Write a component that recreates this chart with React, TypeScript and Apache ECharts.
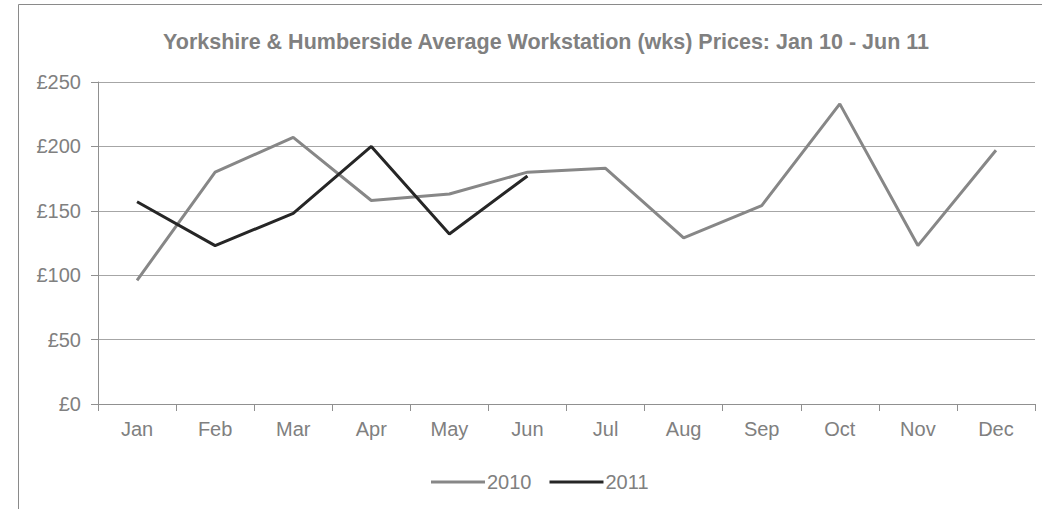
import React, { useEffect, useRef } from "react";
import * as echarts from "echarts";

const categories = ["Jan", "Feb", "Mar", "Apr", "May", "Jun", "Jul", "Aug", "Sep", "Oct", "Nov", "Dec"];
const values2010 = [96, 180, 207, 158, 163, 180, 183, 129, 154, 233, 123, 197];
const values2011 = [157, 123, 148, 200, 132, 177];
const yTicks = [0, 50, 100, 150, 200, 250];

export default function App() {
  const ref = useRef<HTMLDivElement>(null);
  useEffect(() => {
    const chart = echarts.init(ref.current!, null, { renderer: "svg" });
    const font = "'Liberation Sans', Arial, sans-serif";
    chart.setOption({
      animation: false,
      backgroundColor: "#ffffff",
      title: {
        text: "Yorkshire & Humberside Average Workstation (wks) Prices: Jan 10 - Jun 11",
        left: 541,
        textAlign: "center",
        top: 26,
        textStyle: { fontFamily: font, fontSize: 21.5, fontWeight: "bold", color: "#808080" },
      },
      legend: {
        top: 467,
        left: 426,
        itemWidth: 54,
        itemHeight: 3,
        itemGap: 18,
        icon: "rect",
        textStyle: { fontFamily: font, fontSize: 20, color: "#808080", padding: [0, 0, 0, -3] },
        data: ["2010", "2011"],
      },
      grid: { left: 98, right: 7, top: 82, bottom: 105, containLabel: false },
      xAxis: {
        type: "category",
        data: categories,
        boundaryGap: true,
        axisLine: { lineStyle: { color: "#909090", width: 1 } },
        axisTick: { show: true, alignWithLabel: false, length: 7, lineStyle: { color: "#909090" } },
        axisLabel: { fontFamily: font, fontSize: 20, color: "#808080", margin: 15 },
      },
      yAxis: {
        type: "value",
        min: 0,
        max: 250,
        interval: 50,
        axisLine: { show: true, lineStyle: { color: "#909090", width: 1 } },
        axisTick: { show: true, length: 7, lineStyle: { color: "#909090" } },
        splitLine: { lineStyle: { color: "#a6a6a6", width: 1 } },
        axisLabel: {
          fontFamily: font,
          fontSize: 20,
          color: "#808080",
          margin: 17,
          formatter: (v: number) => (yTicks.includes(v) ? "£" + v : ""),
        },
      },
      series: [
        {
          name: "2010",
          type: "line",
          data: values2010,
          symbol: "none",
          lineStyle: { color: "#878787", width: 3 },
          itemStyle: { color: "#878787" },
        },
        {
          name: "2011",
          type: "line",
          data: values2011,
          symbol: "none",
          lineStyle: { color: "#262626", width: 3 },
          itemStyle: { color: "#262626" },
        },
      ],
      graphic: [
        {
          type: "rect",
          shape: { x: 18.5, y: 4.5, width: 1040, height: 520 },
          style: { fill: "none", stroke: "#8a8a8a", lineWidth: 1 },
          silent: true,
        },
      ],
    });
    return () => chart.dispose();
  }, []);
  return (
    <div
      ref={ref}
      style={{ width: 1042, height: 509, position: "absolute", left: 0, top: 0 }}
    />
  );
}
